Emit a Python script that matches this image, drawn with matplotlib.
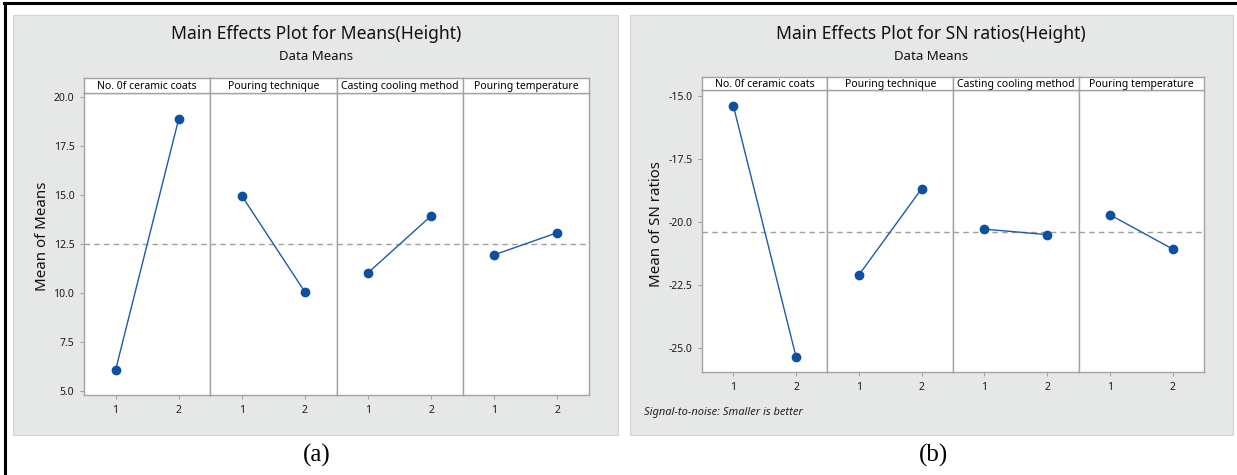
import numpy as np
import matplotlib
matplotlib.use("Agg")
import matplotlib.pyplot as plt
from matplotlib.patches import Rectangle
from matplotlib.lines import Line2D

plt.rcParams['font.family'] = ['Noto Sans', 'DejaVu Sans']
plt.rcParams['axes.unicode_minus'] = False

# ---------------- data ----------------
factors = ["No. 0f ceramic coats", "Pouring technique",
           "Casting cooling method", "Pouring temperature"]
levels = [1, 2]
level_labels = ["1", "2"]

means_height = {
    "No. 0f ceramic coats": [6.07, 18.89],
    "Pouring technique": [14.97, 10.06],
    "Casting cooling method": [11.04, 13.95],
    "Pouring temperature": [11.96, 13.09],
}
sn_height = {
    "No. 0f ceramic coats": [-15.40, -25.37],
    "Pouring technique": [-22.11, -18.69],
    "Casting cooling method": [-20.29, -20.51],
    "Pouring temperature": [-19.72, -21.08],
}
yticks_a = [5.0, 7.5, 10.0, 12.5, 15.0, 17.5, 20.0]
yticks_b = [-25.0, -22.5, -20.0, -17.5, -15.0]

title_a = "Main Effects Plot for Means(Height)"
title_b = "Main Effects Plot for SN ratios(Height)"
subtitle = "Data Means"
ylabel_a = "Mean of Means"
ylabel_b = "Mean of SN ratios"
note_b = "Signal-to-noise: Smaller is better"

# ---------------- layout helpers ----------------
W, H = 1237, 475
fig = plt.figure(figsize=(W / 100, H / 100), dpi=100)
fig.patch.set_facecolor('white')

def fx(x):
    return x / W

def fy(y):
    return 1 - y / H

def box(x0, y0, x1, y1):
    return [fx(x0), fy(y1), fx(x1) - fx(x0), fy(y0) - fy(y1)]

BG = '#E6E7E7'
EDGE = '#A3A3A3'
BLUE = '#1B5AAE'
MARK = '#0E4F9F'
TXT = '#111111'

# black frame lines
fig.add_artist(Line2D([fx(4), fx(1237)], [fy(3), fy(3)], color='black', lw=2.2))
fig.add_artist(Line2D([fx(5), fx(5)], [fy(3), fy(475)], color='black', lw=2.2))

# gray panels
for (x0, x1) in [(13, 618), (630, 1233)]:
    fig.add_artist(Rectangle((fx(x0), fy(435)), fx(x1) - fx(x0), fy(15) - fy(435),
                             transform=fig.transFigure, facecolor=BG,
                             edgecolor='#D2D3D3', lw=0.8, zorder=0))


def draw_panel(data, px0, px1, strip_top, plot_top, plot_bot, ylim, yticks,
               title, ylabel, cx, ylab_x):
    n = len(factors)
    wpx = (px1 - px0) / n
    grand = np.mean([v for f in factors for v in data[f]])
    for i, f in enumerate(factors):
        x0 = px0 + i * wpx
        x1 = x0 + wpx
        ax = fig.add_axes(box(x0, plot_top, x1, plot_bot))
        ax.set_facecolor('white')
        ax.plot(levels, data[f], color=BLUE, lw=1.0, zorder=3)
        ax.plot(levels, data[f], 'o', color=MARK, ms=6, zorder=4)
        ax.axhline(grand, color='#A0A0A0', lw=1.0, ls=(0, (4, 3)), zorder=2)
        ax.set_xlim(0.5, 2.5)
        ax.set_ylim(*ylim)
        ax.set_xticks(levels)
        ax.set_xticklabels(level_labels)
        for s in ax.spines.values():
            s.set_color(EDGE)
            s.set_linewidth(1.0)
        ax.tick_params(axis='both', colors=EDGE, labelcolor='#1A1A1A',
                       labelsize=7.5, length=3, width=0.8, pad=4)
        if i == 0:
            ax.set_yticks(yticks)
            ax.set_yticklabels([f"{t:.1f}" for t in yticks])
        else:
            ax.set_yticks([])
        # strip
        sax = fig.add_axes(box(x0, strip_top, x1, plot_top))
        sax.set_facecolor('white')
        sax.set_xticks([])
        sax.set_yticks([])
        for s in sax.spines.values():
            s.set_color(EDGE)
            s.set_linewidth(1.0)
        sax.text(0.5, 0.45, f, transform=sax.transAxes, ha='center', va='center',
                 fontsize=7.5, color='black')
    fig.text(fx(cx), fy(34), title, ha='center', va='center', fontsize=12.6,
             color=TXT)
    fig.text(fx(cx), fy(57), subtitle, ha='center', va='center', fontsize=9.5,
             color=TXT)
    fig.text(fx(ylab_x), fy((strip_top + plot_bot) / 2), ylabel, rotation=90,
             ha='center', va='center', fontsize=10.8, color=TXT)


draw_panel(means_height, 84, 589, 78, 93, 395, (4.80, 20.22), yticks_a,
           title_a, ylabel_a, 316, 42)
draw_panel(sn_height, 702, 1204, 77, 90, 372, (-25.96, -14.77), yticks_b,
           title_b, ylabel_b, 931, 657)

fig.text(fx(644), fy(412), note_b, ha='left', va='center', fontsize=8,
         style='italic', color='#222222')

fig.text(fx(317), fy(455), "(a)", ha='center', va='center', fontsize=18,
         family='Liberation Serif', color='black')
fig.text(fx(933), fy(455), "(b)", ha='center', va='center', fontsize=18,
         family='Liberation Serif', color='black')

fig.savefig("out.png", dpi=100, facecolor='white')
